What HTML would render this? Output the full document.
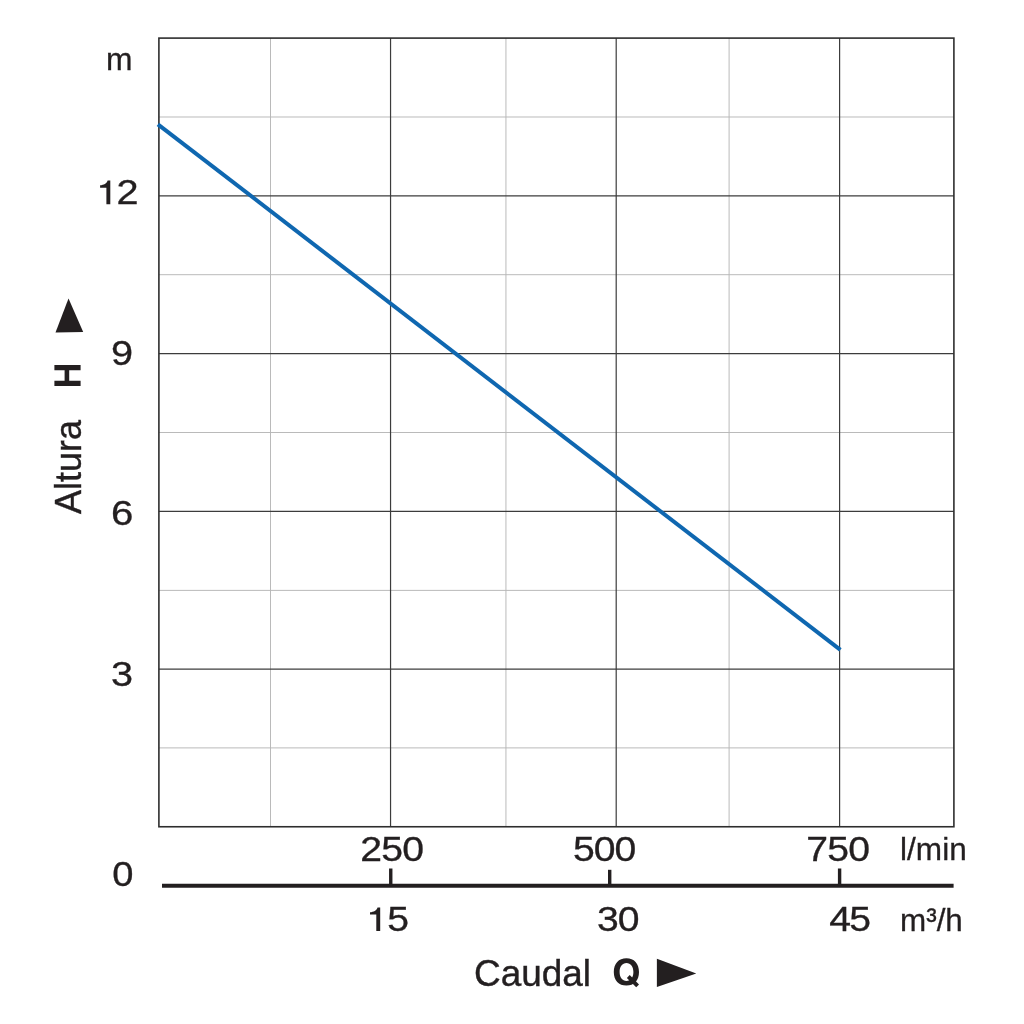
<!DOCTYPE html>
<html>
<head>
<meta charset="utf-8">
<title>Curva Caudal / Altura</title>
<style>
  html, body { margin: 0; padding: 0; background: #ffffff; }
  body { width: 1024px; height: 1024px; overflow: hidden; }
  svg { display: block; will-change: transform; }
  text { font-family: "Liberation Sans", sans-serif; fill: #231f20; }
</style>
</head>
<body>
<svg width="1024" height="1024" viewBox="0 0 1024 1024">
  <rect x="0" y="0" width="1024" height="1024" fill="#ffffff"/>

  <!-- minor grid -->
  <g stroke="#b6b6b6" stroke-width="0.95" fill="none">
    <line x1="158.9" y1="117.0" x2="953.9" y2="117.0"/>
    <line x1="158.9" y1="274.7" x2="953.9" y2="274.7"/>
    <line x1="158.9" y1="432.5" x2="953.9" y2="432.5"/>
    <line x1="158.9" y1="590.4" x2="953.9" y2="590.4"/>
    <line x1="158.9" y1="747.9" x2="953.9" y2="747.9"/>
    <line x1="270.5" y1="38.1" x2="270.5" y2="826.75"/>
    <line x1="505.95" y1="38.1" x2="505.95" y2="826.75"/>
    <line x1="729.1" y1="38.1" x2="729.1" y2="826.75"/>
  </g>
  <!-- major grid -->
  <g stroke="#3c3c3c" stroke-width="1.2" fill="none">
    <line x1="158.9" y1="195.9" x2="953.9" y2="195.9"/>
    <line x1="158.9" y1="353.7" x2="953.9" y2="353.7"/>
    <line x1="158.9" y1="511.3" x2="953.9" y2="511.3"/>
    <line x1="158.9" y1="669.1" x2="953.9" y2="669.1"/>
    <line x1="390.55" y1="38.1" x2="390.55" y2="826.75"/>
    <line x1="616.2" y1="38.1" x2="616.2" y2="826.75"/>
    <line x1="839.6" y1="38.1" x2="839.6" y2="826.75"/>
  </g>
  <!-- frame -->
  <rect x="158.9" y="38.1" width="795.0" height="788.65" fill="none" stroke="#2e2e2e" stroke-width="1.6"/>
  <!-- curve -->
  <line x1="157.9" y1="124.3" x2="840.4" y2="649.9" stroke="#0f67b0" stroke-width="4.0"/>
  <!-- second x axis -->
  <g stroke="#231f20" fill="none">
    <line x1="162" y1="885.7" x2="953.6" y2="885.7" stroke-width="4"/>
    <line x1="390.75" y1="868.5" x2="390.75" y2="886" stroke-width="3.4"/>
    <line x1="609.7" y1="869.8" x2="609.7" y2="886" stroke-width="3.4"/>
    <line x1="839.6" y1="868.5" x2="839.6" y2="886" stroke-width="3.4"/>
  </g>
  <!-- y labels -->
  <text transform="translate(105.90,69.70) scale(1.0,1.0)" style="font-size:31.8px;stroke:#231f20;stroke-width:0.3px;">m</text>
  <path transform="translate(100.1,204.3)" d="M10.2,-23.70 L10.2,0 L6.30,0 L6.30,-16.55 L0,-16.55 L0,-18.95 C3.67,-19.05 6.73,-20.86 7.55,-23.70 Z" fill="#231f20"/>
  <text transform="translate(116.62,204.40) scale(1.15,1.0)" style="font-size:34.5px;stroke:#231f20;stroke-width:0.3px;">2</text>
  <text transform="translate(111.11,364.50) scale(1.15,1.034)" style="font-size:34.5px;stroke:#231f20;stroke-width:0.3px;">9</text>
  <text transform="translate(111.09,524.70) scale(1.165,1.026)" style="font-size:34.5px;stroke:#231f20;stroke-width:0.3px;">6</text>
  <text transform="translate(111.01,685.70) scale(1.15,1.02)" style="font-size:34.5px;stroke:#231f20;stroke-width:0.3px;">3</text>
  <text transform="translate(112.18,886.00) scale(1.105,1.01)" style="font-size:34.5px;stroke:#231f20;stroke-width:0.3px;">0</text>
  <!-- x labels l/min -->
  <text transform="translate(360.24,860.50) scale(1.135,1.0)" style="font-size:34.5px;stroke:#231f20;stroke-width:0.3px;letter-spacing:-0.7px;">250</text>
  <text transform="translate(572.93,860.60) scale(1.135,1.0)" style="font-size:34.5px;stroke:#231f20;stroke-width:0.3px;letter-spacing:-0.9px;">500</text>
  <text transform="translate(806.34,860.80) scale(1.135,1.0)" style="font-size:34.5px;stroke:#231f20;stroke-width:0.3px;letter-spacing:-0.7px;">750</text>
  <text transform="translate(900.07,860.10) scale(1.012,1.0)" style="font-size:31.2px;stroke:#231f20;stroke-width:0.3px;">l/min</text>
  <!-- x labels m3/h -->
  <path transform="translate(370.0,931.1)" d="M10.2,-23.70 L10.2,0 L6.30,0 L6.30,-16.55 L0,-16.55 L0,-18.95 C3.67,-19.05 6.73,-20.86 7.55,-23.70 Z" fill="#231f20"/>
  <text transform="translate(387.13,931.30) scale(1.135,1.0)" style="font-size:34.5px;stroke:#231f20;stroke-width:0.3px;">5</text>
  <text transform="translate(596.93,931.10) scale(1.135,1.0)" style="font-size:34.5px;stroke:#231f20;stroke-width:0.3px;letter-spacing:-0.9px;">30</text>
  <text transform="translate(829.22,931.30) scale(1.135,1.0)" style="font-size:34.5px;stroke:#231f20;stroke-width:0.3px;letter-spacing:-1.5px;">45</text>
  <text transform="translate(900.03,930.50) scale(0.988,1.0)" style="font-size:31.8px;stroke:#231f20;stroke-width:0.3px;">m³/h</text>
  <!-- x title -->
  <text transform="translate(474.05,985.50) scale(0.985,1.0)" style="font-size:37.5px;stroke:#231f20;stroke-width:0.4px;">Caudal</text>
  <path fill-rule="evenodd" fill="#231f20" d="M613.80,971.90 C613.80,963.60 618.71,958.30 626.40,958.30 C634.09,958.30 639.00,963.60 639.00,971.90 C639.00,980.20 634.09,985.50 626.40,985.50 C618.71,985.50 613.80,980.20 613.80,971.90 Z M619.60,972.10 C619.60,977.50 622.36,981.10 626.50,981.10 C630.64,981.10 633.40,977.50 633.40,972.10 C633.40,966.70 630.64,963.10 626.50,963.10 C622.36,963.10 619.60,966.70 619.60,972.10 Z"/>
  <line x1="628.3" y1="976.5" x2="637.6" y2="985.8" stroke="#231f20" stroke-width="4"/>
  <polygon points="656.9,958.8 696.3,973.4 656.9,986.9" fill="#231f20"/>
  <!-- y title -->
  <g transform="translate(80.5,513.8) rotate(-90)">
  <text transform="translate(-0.18,0.00) scale(0.958,1.0)" style="font-size:37.5px;stroke:#231f20;stroke-width:0.4px;">Altura</text>
  </g>
  <path fill="#231f20" d="M54.4,365.0 H80.6 V370.2 H69.2 V380.7 H80.6 V386.0 H54.4 V380.7 H64.6 V370.2 H54.4 Z"/>
  <polygon points="68.5,298.4 83.2,332.1 55.5,332.6" fill="#231f20"/>
</svg>
</body>
</html>
